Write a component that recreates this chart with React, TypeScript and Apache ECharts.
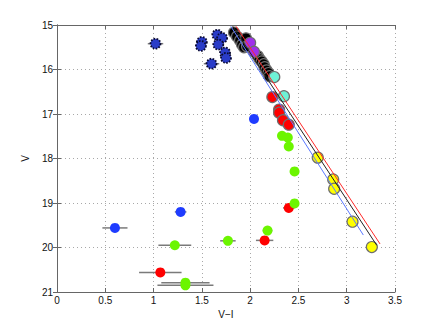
import React, { useEffect, useRef } from "react";
import * as echarts from "echarts";

// x ticks (V−I) and y ticks (V)
const xTicks = [0, 0.5, 1, 1.5, 2, 2.5, 3, 3.5];
const yTicks = [15, 16, 17, 18, 19, 20, 21];

// Each point: [V−I, V, error in V−I]
const navyPts = [
  [1.02, 15.42, 0.08],
  [1.5, 15.38, 0.03],
  [1.49, 15.47, 0.03],
  [1.66, 15.22, 0.03],
  [1.71, 15.29, 0.03],
  [1.67, 15.44, 0.03],
  [1.74, 15.62, 0.03],
  [1.75, 15.74, 0.03],
  [1.6, 15.87, 0.08],
  [2.19, 16.13, 0.02],
];
const blackPts = [
  [1.833, 15.17, 0.02],
  [1.864, 15.26, 0.02],
  [1.895, 15.35, 0.02],
  [1.916, 15.44, 0.02],
  [1.936, 15.5, 0.02],
  [1.957, 15.3, 0.02],
  [1.968, 15.48, 0.02],
  [2.08, 15.7, 0.02],
  [2.1, 15.77, 0.02],
  [2.12, 15.82, 0.02],
  [2.14, 15.88, 0.02],
  [2.15, 15.95, 0.02],
  [2.17, 16.02, 0.02],
  [2.19, 16.08, 0.02],
  [2.2, 16.15, 0.02],
];
const purplePts = [
  [2.0, 15.4, 0.02],
  [2.04, 15.6, 0.02],
];
const cyanPts = [
  [2.25, 16.17, 0.02],
  [2.35, 16.6, 0.02],
];
const redEdgePts = [
  [2.23, 16.62, 0.02],
  [2.3, 16.9, 0.02],
  [2.3, 16.97, 0.02],
  [2.34, 17.14, 0.02],
  [2.4, 17.24, 0.02],
];
const redPts = [
  [2.4, 19.11, 0.06],
  [2.15, 19.84, 0.09],
  [1.07, 20.56, 0.22],
];
const bluePts = [
  [2.04, 17.11, 0.02],
  [1.28, 19.2, 0.06],
  [0.6, 19.56, 0.13],
];
const greenPts = [
  [2.33, 17.49, 0.02],
  [2.39, 17.53, 0.02],
  [2.4, 17.73, 0.02],
  [2.46, 18.29, 0.02],
  [2.46, 19.01, 0.03],
  [2.18, 19.62, 0.05],
  [1.77, 19.85, 0.08],
  [1.22, 19.95, 0.17],
  [1.33, 20.79, 0.25],
  [1.33, 20.85, 0.29],
];
const yellowPts = [
  [2.7, 17.98, 0.03],
  [2.86, 18.47, 0.03],
  [2.87, 18.68, 0.03],
  [3.06, 19.42, 0.03],
  [3.26, 19.99, 0.06],
];

// Fit lines: [start, end]
const redLine = [
  [1.854, 15.03],
  [3.345, 19.92],
];
const blackLine = [
  [1.82, 15.03],
  [3.311, 19.95],
];
const blueLine = [
  [1.8, 15.03],
  [3.172, 19.72],
];

const FONT = "'Liberation Sans', Arial, Helvetica, sans-serif";

export default function App() {
  const ref = useRef<HTMLDivElement>(null);
  useEffect(() => {
    if (!ref.current) return;
    const chart = echarts.init(ref.current, null, { renderer: "svg" });

    const allPts = [
      ...navyPts,
      ...blackPts,
      ...purplePts,
      ...cyanPts,
      ...redEdgePts,
      ...redPts,
      ...bluePts,
      ...greenPts,
      ...yellowPts,
    ];

    const scatter = (
      data: number[][],
      color: string,
      size: number,
      border?: { color: string; width: number; type?: any }
    ) => ({
      type: "scatter",
      data: data.map((p) => [p[0], p[1]]),
      symbol: "circle",
      symbolSize: size,
      z: 3,
      itemStyle: {
        color,
        opacity: 1,
        borderColor: border ? border.color : color,
        borderWidth: border ? border.width : 0,
        borderType: border && border.type ? border.type : "solid",
      },
      emphasis: { disabled: true },
    });

    const line = (data: number[][], color: string) => ({
      type: "line",
      data,
      symbol: "none",
      z: 5,
      lineStyle: { color, width: 1 },
      emphasis: { disabled: true },
    });

    const grey = { color: "#6e6e6e", width: 1.2 };

    const option: any = {
      animation: false,
      grid: { left: 57, right: 41, top: 25, bottom: 36, outerBoundsMode: "none" },
      xAxis: [
        {
          type: "value",
          min: xTicks[0],
          max: xTicks[xTicks.length - 1],
          interval: 0.5,
          position: "bottom",
          name: "V\u2212I",
          nameLocation: "middle",
          nameGap: 14,
          nameTextStyle: { color: "#111", fontSize: 10, fontFamily: FONT },
          axisLine: { show: true, lineStyle: { color: "#666", width: 1 } },
          axisTick: { show: true, inside: true, length: 4, lineStyle: { color: "#666" } },
          axisLabel: {
            color: "#111",
            fontSize: 10,
            fontFamily: FONT,
            margin: 3,
            formatter: (v: number) => String(v),
          },
          splitLine: { show: true, lineStyle: { color: "#a8a8a8", type: [1, 3], width: 1 } },
        },
        {
          type: "value",
          min: xTicks[0],
          max: xTicks[xTicks.length - 1],
          interval: 0.5,
          position: "top",
          axisLine: { show: true, lineStyle: { color: "#666", width: 1 } },
          axisTick: { show: true, inside: true, length: 4, lineStyle: { color: "#666" } },
          axisLabel: { show: false },
          splitLine: { show: false },
        },
      ],
      yAxis: [
        {
          type: "value",
          inverse: true,
          min: yTicks[0],
          max: yTicks[yTicks.length - 1],
          interval: 1,
          position: "left",
          name: "V",
          nameLocation: "middle",
          nameGap: 19,
          nameRotate: 90,
          nameTextStyle: { color: "#111", fontSize: 10, fontFamily: FONT },
          axisLine: { show: true, lineStyle: { color: "#666", width: 1 } },
          axisTick: { show: true, inside: true, length: 4, lineStyle: { color: "#666" } },
          axisLabel: { color: "#111", fontSize: 10, fontFamily: FONT, margin: 4 },
          splitLine: { show: true, lineStyle: { color: "#a8a8a8", type: [1, 3], width: 1 } },
        },
        {
          type: "value",
          inverse: true,
          min: yTicks[0],
          max: yTicks[yTicks.length - 1],
          interval: 1,
          position: "right",
          axisLine: { show: true, lineStyle: { color: "#666", width: 1 } },
          axisTick: { show: true, inside: true, length: 4, lineStyle: { color: "#666" } },
          axisLabel: { show: false },
          splitLine: { show: false },
        },
      ],
      series: [
        {
          type: "custom",
          data: allPts,
          encode: { x: 0, y: 1 },
          z: 2,
          renderItem: (params: any, api: any) => {
            const x = api.value(0);
            const y = api.value(1);
            const e = api.value(2);
            const p1 = api.coord([x - e, y]);
            const p2 = api.coord([x + e, y]);
            return {
              type: "line",
              shape: { x1: p1[0], y1: p1[1], x2: p2[0], y2: p2[1] },
              style: { stroke: "#7a7a7a", lineWidth: 1.5 },
            };
          },
        },
        scatter(navyPts, "#2a3cc8", 10, { color: "#0a0a30", width: 1.8, type: [1.6, 1.4] }),
        scatter(blackPts, "#000000", 11, grey),
        scatter(purplePts, "#a030ec", 11, grey),
        scatter(cyanPts, "#6ff2d6", 11, grey),
        scatter(redEdgePts, "#ff0000", 11, grey),
        scatter(redPts, "#ff0000", 10),
        scatter(bluePts, "#1f3cff", 10),
        scatter(greenPts, "#6cf500", 10),
        scatter(yellowPts, "#ffff00", 11, grey),
        line(redLine, "#ff2a2a"),
        line(blackLine, "#222222"),
        line(blueLine, "#5a78ff"),
      ],
    };
    chart.setOption(option);
    return () => chart.dispose();
  }, []);

  return (
    <div
      ref={ref}
      style={{ position: "fixed", left: 0, top: 0, width: 436, height: 328, background: "#fff" }}
    />
  );
}
